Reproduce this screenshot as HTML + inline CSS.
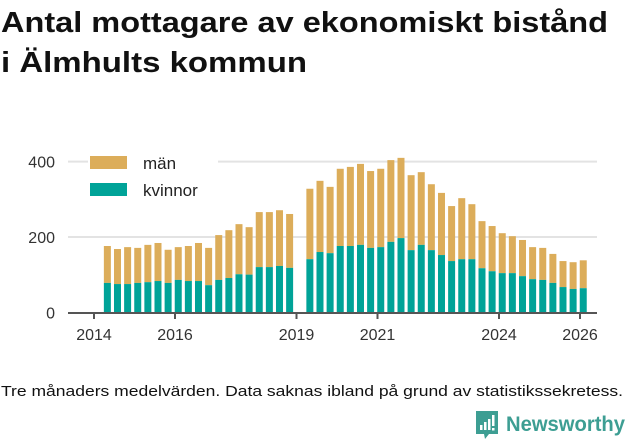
<!DOCTYPE html>
<html><head><meta charset="utf-8"><style>
body{margin:0;width:631px;height:439px;background:#fff;overflow:hidden;font-family:"Liberation Sans",sans-serif}
</style></head><body>
<svg width="631" height="439" xmlns="http://www.w3.org/2000/svg" id="chart">
<text x="1" y="32" font-size="29" font-weight="bold" fill="#111" textLength="607" lengthAdjust="spacingAndGlyphs">Antal mottagare av ekonomiskt bistånd</text>
<text x="1" y="72" font-size="29" font-weight="bold" fill="#111" textLength="306" lengthAdjust="spacingAndGlyphs">i Älmhults kommun</text>
<g id="grid"></g><g id="bars"></g><g id="axis"></g>
<g>
<rect x="88" y="150" width="130" height="50" fill="#fff"/>
<rect x="90" y="156" width="37" height="13" fill="#dcad5a"/>
<text x="143" y="169" font-size="17" fill="#222">män</text>
<rect x="90" y="183" width="37" height="13" fill="#00a398"/>
<text x="143" y="196" font-size="17" fill="#222">kvinnor</text>
</g>
<text x="1" y="396" font-size="15" fill="#111" textLength="622" lengthAdjust="spacingAndGlyphs">Tre månaders medelvärden. Data saknas ibland på grund av statistikssekretess.</text>
<g>
<path d="M476 411 h22 v23 h-9 l-4 5 l-1 -5 h-8 z" fill="#3d9e93"/>
<rect x="480" y="425" width="2.5" height="5" fill="#fff"/><rect x="484" y="422" width="2.5" height="8" fill="#fff"/><rect x="488" y="419" width="2.5" height="11" fill="#fff"/><rect x="492" y="415" width="2.5" height="11" fill="#fff"/><rect x="492" y="428" width="2.5" height="2.5" fill="#fff"/>
<text x="506" y="431" font-size="21" font-weight="bold" fill="#3d9e93" textLength="119" lengthAdjust="spacingAndGlyphs">Newsworthy</text>
</g>
</svg>
<script>
const yearsIdx=[0,1,2,3,4,5,6,7,8,9,10,11,12,13,14,15,16,17,18,20,21,22,23,24,25,26,27,28,29,30,31,32,33,34,35,36,37,38,39,40,41,42,43,44,45,46,47];
const totals=[176,168,173,171,179,184,166,173,176,184,171,205,218,234,226,266,266,271,261,328,349,333,381,386,394,375,381,404,410,364,372,340,317,282,303,287,242,229,210,202,192,173,171,155,136,133,138];
const women=[78,75,75,78,80,83,78,86,83,83,72,86,91,101,100,120,120,123,118,141,160,157,176,176,179,171,173,187,197,165,179,165,152,136,141,141,117,109,104,104,96,88,86,78,67,62,64];
const yTicks=[0,200,400];
const xTicks=[2014,2016,2019,2021,2024,2026];
const NS="http://www.w3.org/2000/svg";
const y=v=>312.3-v*0.3767;
const x=t=>94+(t-2014)*40.5;
const g=document.getElementById('grid'),b=document.getElementById('bars'),a=document.getElementById('axis');
function mk(tag,attrs,parent){const e=document.createElementNS(NS,tag);for(const k in attrs)e.setAttribute(k,attrs[k]);parent.appendChild(e);return e;}
yTicks.forEach(v=>{
 if(v>0){const l=mk('line',{x1:68,x2:597,y1:y(v),y2:y(v),stroke:'#e3e3e3','stroke-width':2},g);
 
 }
 const t=mk('text',{x:55,y:y(v)+6,'font-size':16,fill:'#333','text-anchor':'end'},g);t.textContent=v;
 
 
});
totals.forEach((tot,i)=>{
 const cx=x(2014.33+yearsIdx[i]*0.25);
 const r1=mk('rect',{x:cx-3.5,y:y(tot),width:7,height:y(women[i])-y(tot),fill:'#dcad5a'},b);
 
 
 const r2=mk('rect',{x:cx-3.5,y:y(women[i]),width:7,height:y(0)-y(women[i]),fill:'#00a398'},b);
 
 
});
const ax=mk('line',{x1:68,x2:597,y1:313,y2:313,stroke:'#555','stroke-width':2},a);


xTicks.forEach(t=>{
 const l=mk('line',{x1:x(t),x2:x(t),y1:313,y2:319,stroke:'#555','stroke-width':2},a);
 
 
 const tx=mk('text',{x:x(t),y:340,'font-size':16,fill:'#333','text-anchor':'middle'},a);tx.textContent=t;
 
 
});
</script>
</body></html>
